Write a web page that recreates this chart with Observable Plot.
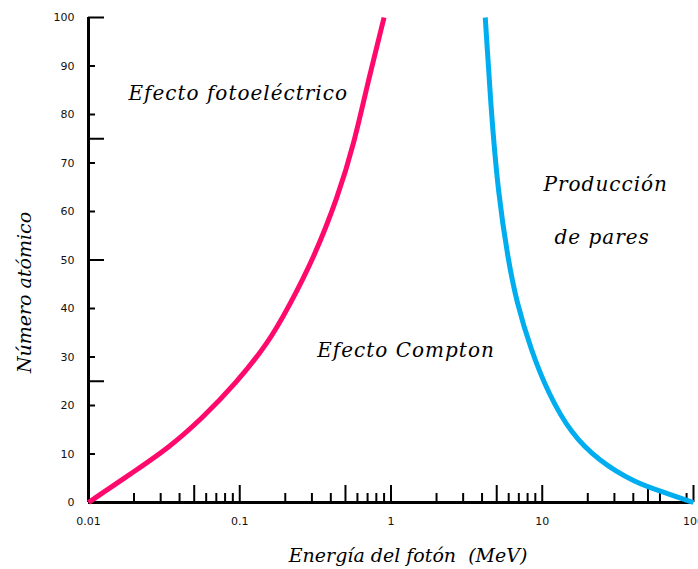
<!DOCTYPE html>
<html>
<head>
<meta charset="utf-8">
<script src="https://cdn.jsdelivr.net/npm/d3@7"></script>
<script src="https://cdn.jsdelivr.net/npm/@observablehq/plot@0.6"></script>
<style>
  html, body { margin: 0; padding: 0; background: #fff; }
  #chart svg { display: block; }
</style>
</head>
<body>
<div id="chart"></div>
<script>
// Boundary between photoelectric effect and Compton scattering (energy in MeV, atomic number Z)
const photoEnergy = [0.01, 0.0205, 0.034, 0.057, 0.094, 0.155, 0.208, 0.31, 0.445, 0.57, 0.70, 0.90];
const photoZ      = [0,    6.6,    11.3,  17.5,  24.5,  33,    40,    50.5, 63,    74,   86.4, 100];

// Boundary between Compton scattering and pair production
const pairEnergy = [4.2, 4.59, 5.11, 5.96, 6.73, 8.45, 10.96, 15.5, 23.4, 40.6, 68,  100];
const pairZ      = [100, 80.8, 63.7, 49.9, 41.6, 31.3, 22.5,  14.2, 8.7,  4.1,  1.8, 0];

// Axis ticks
const xLabelTicks = [0.01, 0.05, 0.1, 0.5, 1, 5, 10, 50, 100];
const xMajorTicks = [0.05, 0.1, 0.5, 1, 5, 10, 50, 100];
const xMinorTicks = [0.02, 0.03, 0.04, 0.06, 0.07, 0.08, 0.09,
                     0.2, 0.3, 0.4, 0.6, 0.7, 0.8, 0.9,
                     2, 3, 4, 6, 7, 8, 9,
                     20, 30, 40, 60, 90];
const yLabelTicks = [0, 10, 20, 30, 40, 50, 60, 70, 80, 90, 100];
const yMajorTicks = [25, 50, 75, 100];
const yMinorTicks = [10, 20, 30, 40, 60, 70, 80, 90];

// Region names, placed in (energy, Z) coordinates
const regionNames  = ["Efecto fotoeléctrico", "Efecto Compton", "Producción", "de pares"];
const regionEnergy = [0.0977, 1.257, 26.3, 24.9];
const regionZ      = [82.9, 30.1, 64.3, 53.4];

const photoData = photoEnergy.map((e, i) => ({energy: e, z: photoZ[i]}));
const pairData = pairEnergy.map((e, i) => ({energy: e, z: pairZ[i]}));
const regions = regionNames.map((name, i) => ({name, energy: regionEnergy[i], z: regionZ[i]}));

const serif = "'DejaVu Serif', 'Liberation Serif', serif";

const chart = Plot.plot({
  width: 698,
  height: 569,
  marginLeft: 88,
  marginRight: 5,
  marginTop: 17,
  marginBottom: 67,
  style: {fontFamily: "'DejaVu Sans', sans-serif", fontSize: "11px", background: "#fff", color: "#000"},
  x: {type: "log", domain: [0.01, 100]},
  y: {domain: [0, 100]},
  marks: [
    // inward tick marks
    Plot.axisX(xMinorTicks, {tickSize: -9, strokeWidth: 2, tickFormat: () => "", label: null}),
    Plot.axisX(xMajorTicks, {tickSize: -17, strokeWidth: 2, tickFormat: () => "", label: null}),
    Plot.axisY(yMinorTicks, {tickSize: -7, strokeWidth: 2, tickFormat: () => "", label: null}),
    Plot.axisY(yMajorTicks, {tickSize: -16, strokeWidth: 2, tickFormat: () => "", label: null}),
    // tick labels
    Plot.axisX(xLabelTicks, {tickSize: 0, tickPadding: 15, tickFormat: d => String(d), label: null, fill: "#111"}),
    Plot.axisY(yLabelTicks, {tickSize: 0, tickPadding: 14, tickFormat: d => String(d), label: null, fill: "#111"}),
    // axis lines
    Plot.ruleX([0.01], {strokeWidth: 3}),
    Plot.ruleY([0], {strokeWidth: 3}),
    // boundary curves
    Plot.line(photoData, {x: "energy", y: "z", stroke: "#ff0a6c", strokeWidth: 5, curve: "basis", strokeLinecap: "butt"}),
    Plot.line(pairData, {x: "energy", y: "z", stroke: "#00aeef", strokeWidth: 5, curve: "basis", strokeLinecap: "butt"}),
    // region names
    Plot.text(regions, {x: "energy", y: "z", text: "name", fontFamily: serif, fontStyle: "italic", fontSize: 20, lineAnchor: "bottom", textAnchor: "middle", fill: "#000"}),
    // axis titles
    Plot.text(["Energía del fotón  (MeV)"], {x: [1.297], frameAnchor: "bottom", dy: 59, lineAnchor: "bottom", textAnchor: "middle", fontFamily: serif, fontStyle: "italic", fontSize: 19, fill: "#000"}),
    Plot.text(["Número atómico"], {y: [43.3], frameAnchor: "left", dx: -58, rotate: -90, lineAnchor: "bottom", textAnchor: "middle", fontFamily: serif, fontStyle: "italic", fontSize: 19, fill: "#000"})
  ]
});

// widen the spacing of the region names
d3.select(chart).selectAll("text")
  .filter(function () { return regionNames.includes(this.textContent); })
  .style("letter-spacing", "1px");

document.getElementById("chart").appendChild(chart);
</script>
</body>
</html>
